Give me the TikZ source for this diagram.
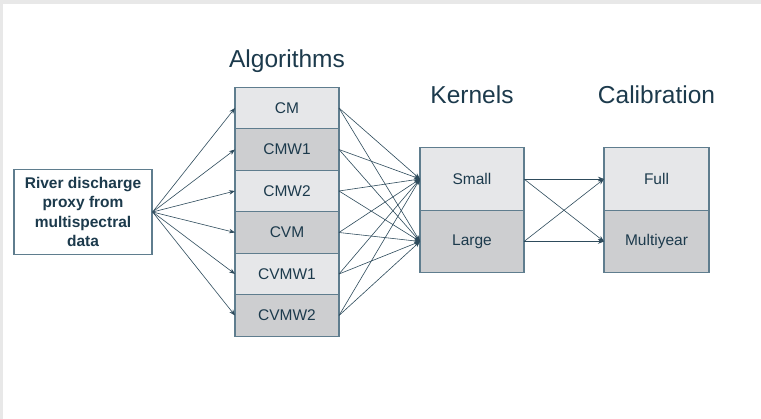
\documentclass[tikz,border=0pt]{standalone}
\usepackage{fontspec}
\setmainfont{Liberation Sans}
\usepackage{tikz}
\usetikzlibrary{arrows.meta,positioning}
\definecolor{inkblue}{HTML}{1C3A4C}
\definecolor{linkblue}{HTML}{2E4B5C}
\definecolor{edgeblue}{HTML}{5F7D8E}
\definecolor{lightcell}{HTML}{E6E7E9}
\definecolor{darkcell}{HTML}{CDCED0}
\definecolor{frame}{HTML}{E8E8E8}

\begin{document}
\begin{tikzpicture}[
    x=1pt, y=-1pt,
    cell/.style={draw=edgeblue, line width=1.2pt, outer sep=0pt, minimum width=104pt, minimum height=41.5pt, font=\fontsize{15.5}{18}\selectfont, text=inkblue},
    block/.style={cell, minimum height=62.5pt},
    heading/.style={font=\fontsize{24.5}{28}\selectfont, text=inkblue},
    source/.style={draw=edgeblue, line width=1.2pt, minimum width=138pt, minimum height=85pt, align=center, font=\fontsize{15.5}{19.5}\selectfont\bfseries, text=inkblue},
    arrow/.style={-{Stealth[length=6pt,width=4.5pt]}, draw=linkblue, line width=0.6pt}
  ]
    \useasboundingbox (0,0) rectangle (761,419);
    \fill[frame] (0,0) rectangle (761,419);
    \fill[white] (3,4) rectangle (761,419);

    \node[source] (proxy) at (83,212) {River discharge\\proxy from\\multispectral\\data};

    \node[heading] at (287,61) {Algorithms};
    \node[cell, fill=lightcell] (cm) at (287,108) {CM};
    \node[cell, fill=darkcell] (cmw1) at (287,149.5) {CMW1};
    \node[cell, fill=lightcell] (cmw2) at (287,191) {CMW2};
    \node[cell, fill=darkcell] (cvm) at (287,232.5) {CVM};
    \node[cell, fill=lightcell] (cvmw1) at (287,274) {CVMW1};
    \node[cell, fill=darkcell] (cvmw2) at (287,315.5) {CVMW2};

    \node[heading] at (472,95) {Kernels};
    \node[block, fill=lightcell] (small) at (472,179) {Small};
    \node[block, fill=darkcell] (large) at (472,241.5) {Large};

    \node[heading] at (656.5,95) {Calibration};
    \node[block, fill=lightcell, minimum width=105pt] (full) at (656.5,179) {Full};
    \node[block, fill=darkcell, minimum width=105pt] (multiyear) at (656.5,241.5) {Multiyear};

    \draw[arrow] (proxy.east) -- (cm.west);
    \draw[arrow] (proxy.east) -- (cmw1.west);
    \draw[arrow] (proxy.east) -- (cmw2.west);
    \draw[arrow] (proxy.east) -- (cvm.west);
    \draw[arrow] (proxy.east) -- (cvmw1.west);
    \draw[arrow] (proxy.east) -- (cvmw2.west);

    \draw[arrow] (cm.east) -- (small.west);
    \draw[arrow] (cm.east) -- (large.west);
    \draw[arrow] (cmw1.east) -- (small.west);
    \draw[arrow] (cmw1.east) -- (large.west);
    \draw[arrow] (cmw2.east) -- (small.west);
    \draw[arrow] (cmw2.east) -- (large.west);
    \draw[arrow] (cvm.east) -- (small.west);
    \draw[arrow] (cvm.east) -- (large.west);
    \draw[arrow] (cvmw1.east) -- (small.west);
    \draw[arrow] (cvmw1.east) -- (large.west);
    \draw[arrow] (cvmw2.east) -- (small.west);
    \draw[arrow] (cvmw2.east) -- (large.west);

    \draw[arrow] (small.east) -- (full.west);
    \draw[arrow] (small.east) -- (multiyear.west);
    \draw[arrow] (large.east) -- (full.west);
    \draw[arrow] (large.east) -- (multiyear.west);
  \end{tikzpicture}
\end{document}
